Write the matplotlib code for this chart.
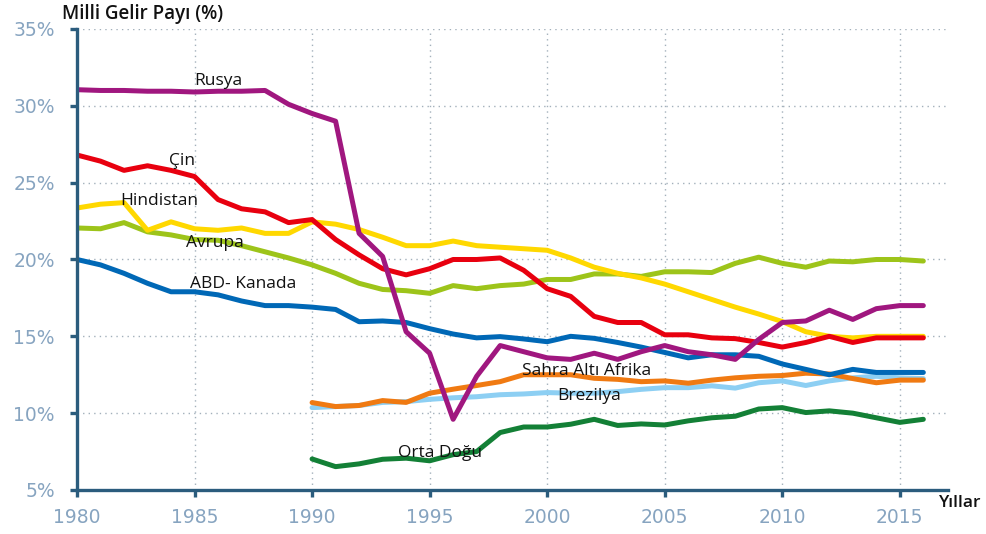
import numpy as np
import matplotlib
matplotlib.use("Agg")
import matplotlib.pyplot as plt

# years
years_all = list(range(1980, 2017))
years_90 = list(range(1990, 2017))

# national income share of top 10%
rusya = [31.05, 31.0, 31.0, 30.95, 30.95, 30.9, 30.95, 30.95, 31.0, 30.1, 29.5,
         29.0, 21.7, 20.2, 15.3, 13.9, 9.6, 12.4, 14.4, 14.0, 13.6,
         13.5, 13.9, 13.5, 14.0, 14.4, 14.0, 13.8, 13.5, 14.8, 15.9,
         16.0, 16.7, 16.1, 16.8, 17.0, 17.0]
cin = [26.8, 26.4, 25.8, 26.1, 25.8, 25.4, 23.9, 23.3, 23.1, 22.4, 22.6,
       21.3, 20.3, 19.4, 19.0, 19.4, 20.0, 20.0, 20.1, 19.3, 18.1,
       17.6, 16.3, 15.9, 15.9, 15.1, 15.1, 14.9, 14.85, 14.6, 14.3,
       14.6, 15.0, 14.6, 14.9, 14.9, 14.9]
hindistan = [23.35, 23.6, 23.7, 21.9, 22.45, 22.0, 21.9, 22.05, 21.7, 21.7, 22.45,
             22.3, 21.95, 21.45, 20.9, 20.9, 21.2, 20.9, 20.8, 20.7, 20.6,
             20.1, 19.5, 19.1, 18.8, 18.4, 17.9, 17.4, 16.9, 16.45, 15.96,
             15.3, 15.0, 14.9, 15.0, 15.0, 15.0]
avrupa = [22.05, 22.0, 22.4, 21.8, 21.6, 21.3, 21.25, 20.9, 20.5, 20.1, 19.65,
          19.1, 18.45, 18.05, 17.97, 17.8, 18.3, 18.1, 18.3, 18.4, 18.7,
          18.7, 19.06, 19.06, 18.9, 19.2, 19.2, 19.15, 19.75, 20.15, 19.75,
          19.5, 19.9, 19.85, 20.0, 20.0, 19.9]
abd_kanada = [20.0, 19.65, 19.1, 18.45, 17.9, 17.9, 17.7, 17.3, 17.0, 17.0, 16.9,
              16.75, 15.95, 16.0, 15.9, 15.5, 15.15, 14.9, 14.98, 14.83, 14.65,
              15.0, 14.87, 14.6, 14.3, 13.95, 13.6, 13.8, 13.8, 13.7, 13.2,
              12.85, 12.5, 12.85, 12.65, 12.65, 12.65]
sahra_alti = [10.69, 10.43, 10.5, 10.82, 10.7, 11.3, 11.56, 11.8, 12.05, 12.5,
              12.5, 12.5, 12.27, 12.2, 12.05, 12.1, 11.95, 12.15, 12.3, 12.4,
              12.45, 12.6, 12.55, 12.25, 11.98, 12.15, 12.15]
brezilya = [10.36, 10.43, 10.5, 10.7, 10.75, 10.9, 11.0, 11.07, 11.2, 11.25,
            11.34, 11.3, 11.3, 11.4, 11.55, 11.66, 11.66, 11.78, 11.63, 11.98,
            12.1, 11.8, 12.1, 12.3, 12.4, 12.3, 12.25]
orta_dogu = [7.02, 6.52, 6.7, 7.0, 7.07, 6.9, 7.3, 7.5, 8.74, 9.1,
             9.1, 9.28, 9.6, 9.2, 9.3, 9.23, 9.5, 9.7, 9.8, 10.27,
             10.36, 10.04, 10.15, 10.0, 9.7, 9.4, 9.6]

x_ticks = [1980, 1985, 1990, 1995, 2000, 2005, 2010, 2015]
y_ticks = [5, 10, 15, 20, 25, 30, 35]

spine_col = "#2b5c7d"
tick_col = "#87a4c0"

fig = plt.figure(figsize=(9.87, 5.34), dpi=100)
ax = fig.add_axes([0.078, 0.0824, 0.8825, 0.8633])

lw = 3.6
ax.plot(years_90, brezilya, color="#8dcff3", lw=lw, solid_capstyle="round")
ax.plot(years_90, sahra_alti, color="#f07a12", lw=lw, solid_capstyle="round")
ax.plot(years_90, orta_dogu, color="#138036", lw=lw, solid_capstyle="round")
ax.plot(years_all, abd_kanada, color="#0068b6", lw=lw, solid_capstyle="round")
ax.plot(years_all, avrupa, color="#9dc41a", lw=lw, solid_capstyle="round")
ax.plot(years_all, hindistan, color="#ffd800", lw=lw, solid_capstyle="round")
ax.plot(years_all, cin, color="#e8000f", lw=lw, solid_capstyle="round")
ax.plot(years_all, rusya, color="#a0177f", lw=lw, solid_capstyle="round")

ax.set_xlim(1980, 2017.05)
ax.set_ylim(5, 35)
ax.set_xticks(x_ticks)
ax.set_yticks(y_ticks)
ax.set_yticklabels([f"{v}%" for v in y_ticks])

ax.grid(True, linestyle=(0, (1, 3)), color="#a3b0bb", lw=1.0)
ax.set_axisbelow(True)

for s in ["top", "right"]:
    ax.spines[s].set_visible(False)
for s in ["left", "bottom"]:
    ax.spines[s].set_color(spine_col)
    ax.spines[s].set_linewidth(2.4)

ax.tick_params(axis="both", colors=spine_col, width=2.4, length=5,
               labelcolor=tick_col, labelsize=13.5)
ax.tick_params(axis="x", pad=8)
ax.tick_params(axis="y", pad=11)
for lab in ax.get_xticklabels() + ax.get_yticklabels():
    lab.set_family("DejaVu Sans")

lab_kw = dict(fontsize=12.5, color="#111111", family="Open Sans")
ax.text(1986.0, 31.6, "Rusya", ha="center", va="center", **lab_kw)
ax.text(1984.46, 26.4, "Çin", ha="center", va="center", **lab_kw)
ax.text(1983.5, 23.8, "Hindistan", ha="center", va="center", **lab_kw)
ax.text(1985.86, 21.06, "Avrupa", ha="center", va="center", **lab_kw)
ax.text(1987.05, 18.4, "ABD- Kanada", ha="center", va="center", **lab_kw)
ax.text(1998.95, 12.75, "Sahra Altı Afrika", ha="left", va="center", **lab_kw)
ax.text(2000.43, 11.12, "Brezilya", ha="left", va="center", **lab_kw)
ax.text(1993.64, 7.42, "Orta Doğu", ha="left", va="center", **lab_kw)

fig.text(0.063, 0.974, "Milli Gelir Payı (%)", ha="left", va="center",
         fontsize=13.5, fontweight="semibold", family="Open Sans", color="#111111")
fig.text(0.951, 0.058, "Yıllar", ha="left", va="center",
         fontsize=12.5, fontweight="semibold", family="Open Sans", color="#111111")

fig.savefig("out.png", dpi=100)
